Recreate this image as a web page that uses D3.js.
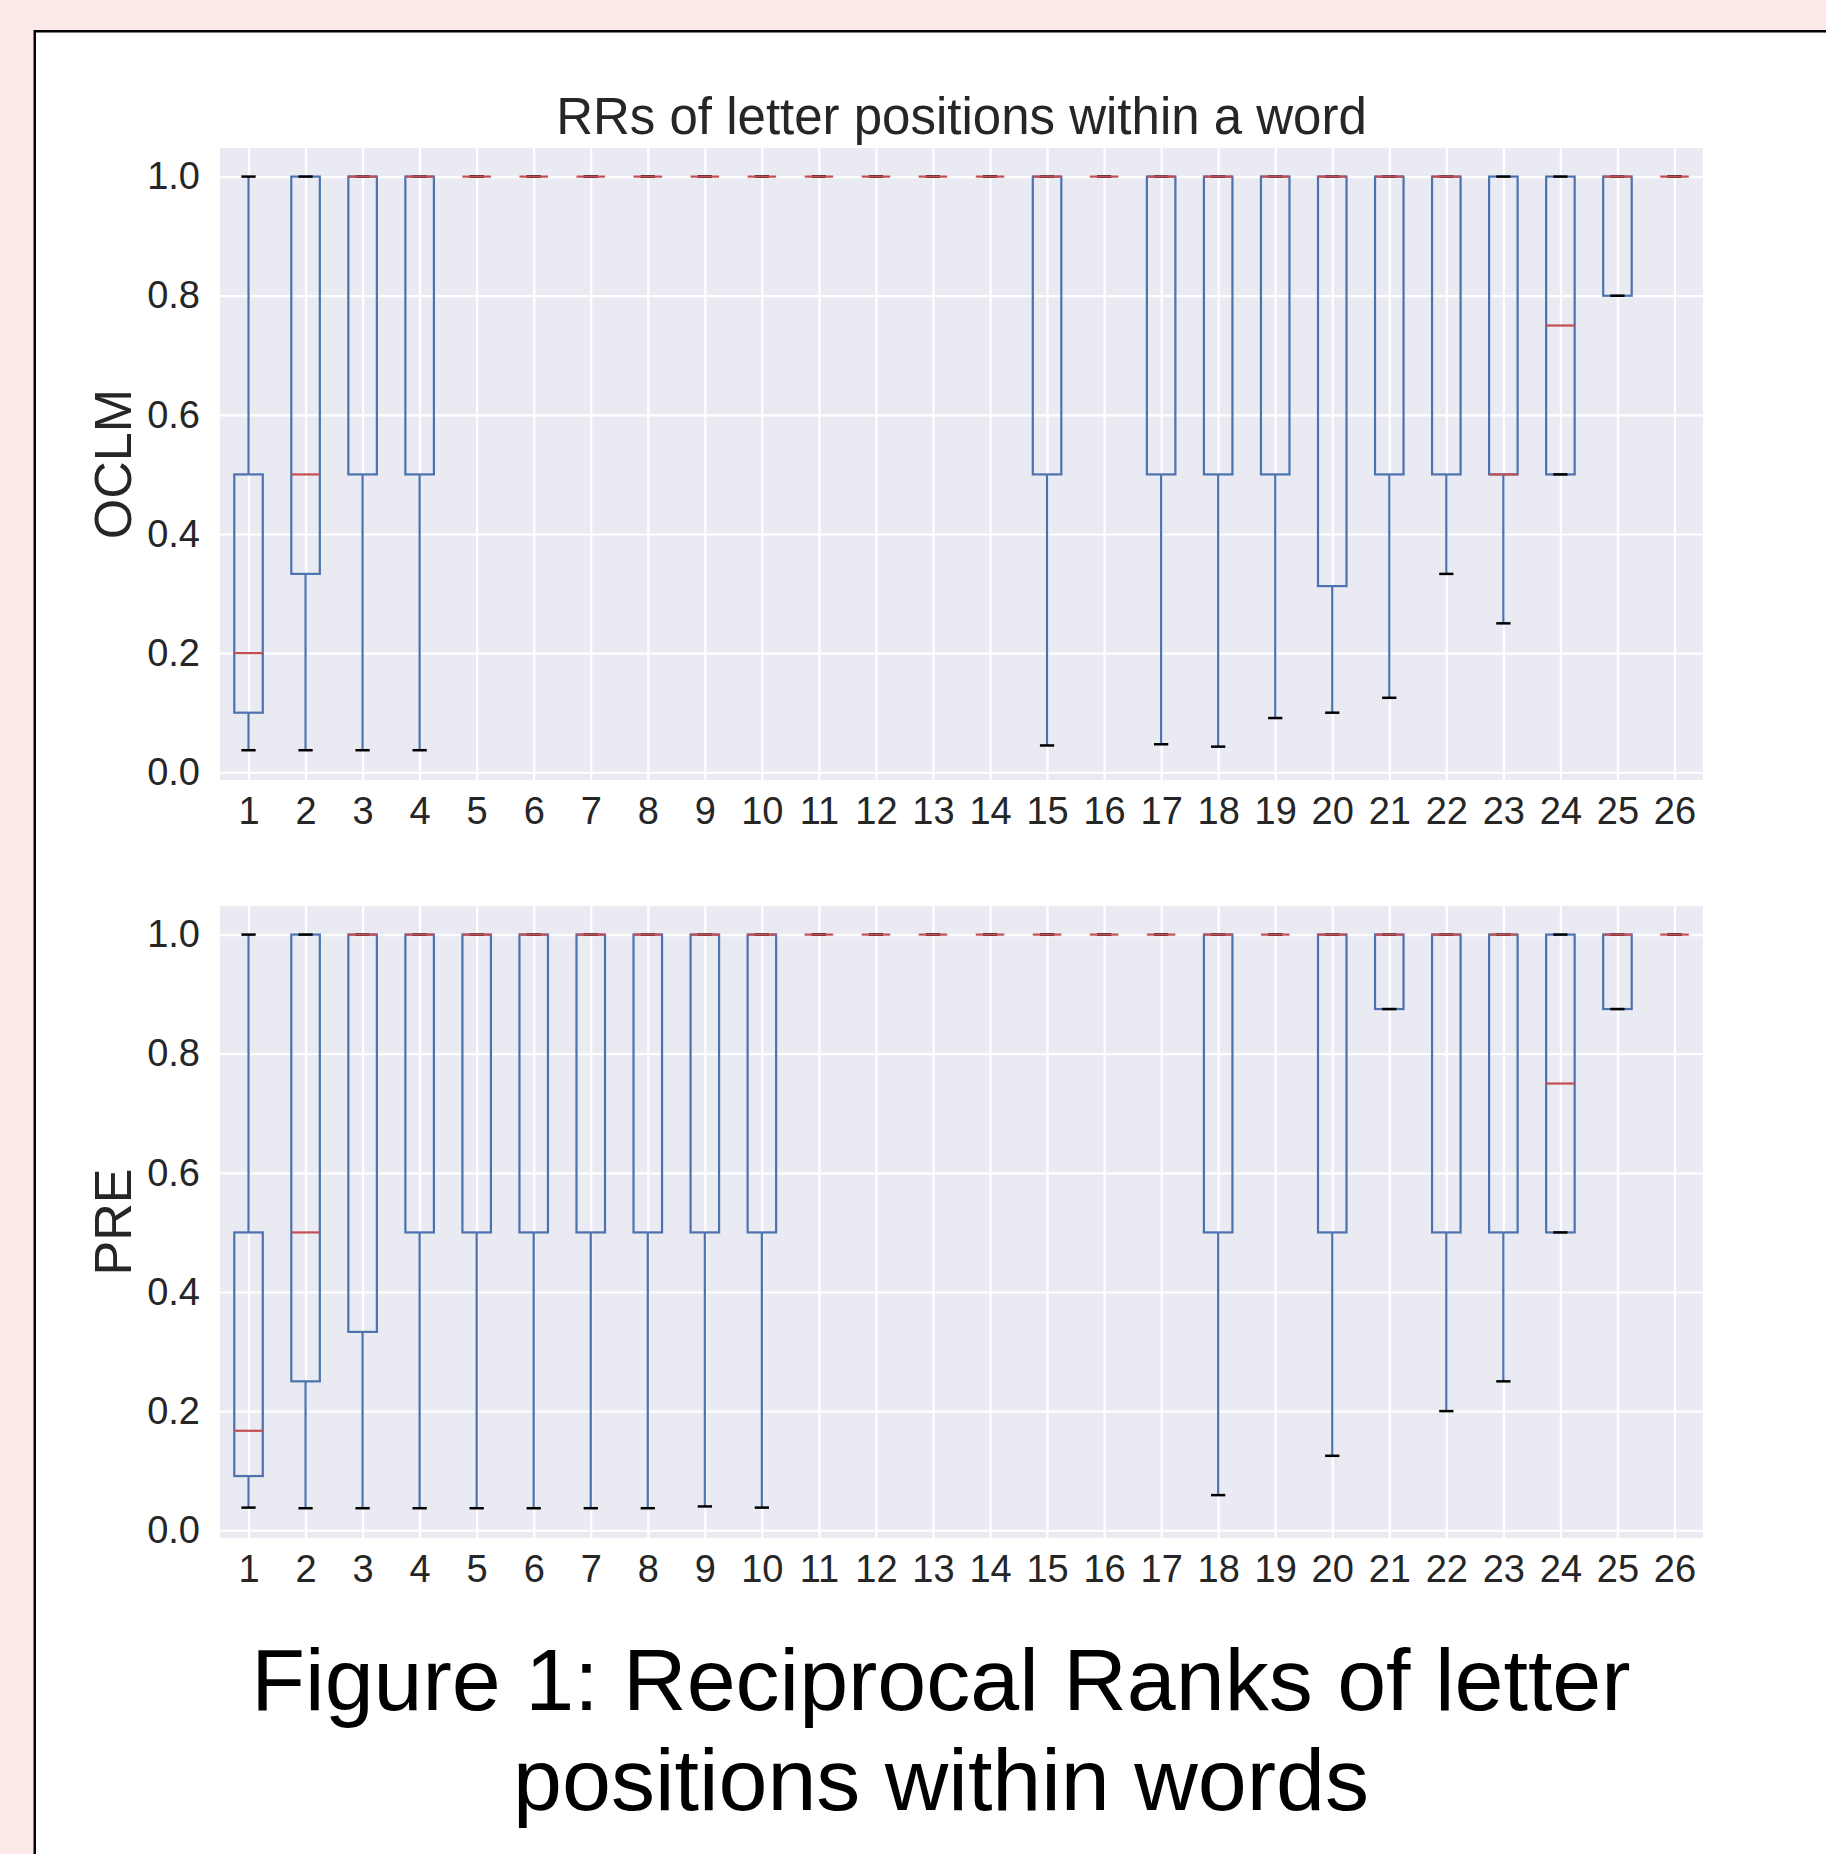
<!DOCTYPE html>
<html>
<head>
<meta charset="utf-8">
<script src="https://cdn.jsdelivr.net/npm/d3@7"></script>
<style>
  html, body { margin: 0; padding: 0; background: #fde8e8; }
  svg { display: block; }
</style>
</head>
<body>
<svg id="chart" width="1826" height="1854"></svg>
<script>
const positions = [1, 2, 3, 4, 5, 6, 7, 8, 9, 10, 11, 12, 13, 14, 15, 16, 17, 18, 19, 20, 21, 22, 23, 24, 25, 26];
const yTicks = [0, 0.2, 0.4, 0.6, 0.8, 1.0];

// OCLM panel, one value per letter position
const oclmLow    = [0.037, 0.037, 0.037, 0.037, 1, 1, 1, 1, 1, 1, 1, 1, 1, 1, 0.045, 1, 0.047, 0.043, 0.091, 0.1, 0.125, 0.333, 0.25, 0.5, 0.8, 1];
const oclmQ1     = [0.1, 0.333, 0.5, 0.5, 1, 1, 1, 1, 1, 1, 1, 1, 1, 1, 0.5, 1, 0.5, 0.5, 0.5, 0.3125, 0.5, 0.5, 0.5, 0.5, 0.8, 1];
const oclmMedian = [0.2, 0.5, 1, 1, 1, 1, 1, 1, 1, 1, 1, 1, 1, 1, 1, 1, 1, 1, 1, 1, 1, 1, 0.5, 0.75, 1, 1];
const oclmQ3     = [0.5, 1, 1, 1, 1, 1, 1, 1, 1, 1, 1, 1, 1, 1, 1, 1, 1, 1, 1, 1, 1, 1, 1, 1, 1, 1];
const oclmHigh   = [1, 1, 1, 1, 1, 1, 1, 1, 1, 1, 1, 1, 1, 1, 1, 1, 1, 1, 1, 1, 1, 1, 1, 1, 1, 1];

// PRE panel
const preLow    = [0.038, 0.037, 0.037, 0.037, 0.037, 0.037, 0.037, 0.037, 0.04, 0.038, 1, 1, 1, 1, 1, 1, 1, 0.059, 1, 0.125, 0.875, 0.2, 0.25, 0.5, 0.875, 1];
const preQ1     = [0.091, 0.25, 0.333, 0.5, 0.5, 0.5, 0.5, 0.5, 0.5, 0.5, 1, 1, 1, 1, 1, 1, 1, 0.5, 1, 0.5, 0.875, 0.5, 0.5, 0.5, 0.875, 1];
const preMedian = [0.167, 0.5, 1, 1, 1, 1, 1, 1, 1, 1, 1, 1, 1, 1, 1, 1, 1, 1, 1, 1, 1, 1, 1, 0.75, 1, 1];
const preQ3     = [0.5, 1, 1, 1, 1, 1, 1, 1, 1, 1, 1, 1, 1, 1, 1, 1, 1, 1, 1, 1, 1, 1, 1, 1, 1, 1];
const preHigh   = [1, 1, 1, 1, 1, 1, 1, 1, 1, 1, 1, 1, 1, 1, 1, 1, 1, 1, 1, 1, 1, 1, 1, 1, 1, 1];

const FontFamily = "'Liberation Sans', Arial, Helvetica, sans-serif";
const TextColor = '#262626';
const BoxColor = '#4C72B0';
const MedianColor = '#C44E52';
const CapColor = '#000000';
const PlotBg = '#EAEAF2';

const plotLeft = 220;
const plotRight = 1703;
const plotHeight = 632;

const panels = [
  { label: 'OCLM', top: 148, low: oclmLow, q1: oclmQ1, median: oclmMedian, q3: oclmQ3, high: oclmHigh },
  { label: 'PRE', top: 906, low: preLow, q1: preQ1, median: preMedian, q3: preQ3, high: preHigh }
];

const svg = d3.select('#chart');

// white page with a black frame that runs off the right and bottom edges
svg.append('rect')
  .attr('x', 34.75)
  .attr('y', 31.25)
  .attr('width', 2000)
  .attr('height', 2000)
  .attr('fill', '#ffffff')
  .attr('stroke', '#000000')
  .attr('stroke-width', 2.5);

const x = d3.scaleLinear()
  .domain([0.5, 26.5])
  .range([plotLeft, plotRight]);
const halfBox = (x(1.25) - x(1)); // box width 0.5
const halfCap = (x(1.125) - x(1)); // cap width 0.25

const drawPanel = (panel, index) => {
  const y = d3.scaleLinear()
    .domain([-0.013, 1.048])
    .range([panel.top + plotHeight, panel.top]);
  const plotWidth = plotRight - plotLeft;

  const g = svg.append('g').classed('panel', true);

  g.append('rect')
    .attr('x', plotLeft)
    .attr('y', panel.top)
    .attr('width', plotWidth)
    .attr('height', plotHeight)
    .attr('fill', PlotBg);

  const yAxis = g.append('g')
    .attr('transform', `translate(${plotLeft},0)`)
    .call(d3.axisLeft(y)
      .tickValues(yTicks)
      .tickFormat(d3.format('.1f'))
      .tickSize(-plotWidth)
      .tickPadding(20));

  const xAxis = g.append('g')
    .attr('transform', `translate(0,${panel.top + plotHeight})`)
    .call(d3.axisBottom(x)
      .tickValues(positions)
      .tickFormat(d3.format('d'))
      .tickSize(-plotHeight)
      .tickPadding(17));

  [xAxis, yAxis].forEach(axis => {
    axis.select('.domain').remove();
    axis.selectAll('.tick line')
      .attr('stroke', '#ffffff')
      .attr('stroke-width', 2.2);
    axis.selectAll('.tick text')
      .attr('fill', TextColor)
      .style('font-family', FontFamily)
      .style('font-size', '38px');
  });

  const data = positions.map((p, i) => ({
    p,
    low: panel.low[i],
    q1: panel.q1[i],
    median: panel.median[i],
    q3: panel.q3[i],
    high: panel.high[i]
  }));

  const boxes = g.append('g').classed('boxes', true);

  // whiskers
  boxes.selectAll('line.whisker-low')
    .data(data)
    .enter().append('line')
      .classed('whisker-low', true)
      .attr('x1', d => x(d.p))
      .attr('x2', d => x(d.p))
      .attr('y1', d => y(d.q1))
      .attr('y2', d => y(d.low))
      .attr('stroke', BoxColor)
      .attr('stroke-width', 2.2);

  boxes.selectAll('line.whisker-high')
    .data(data)
    .enter().append('line')
      .classed('whisker-high', true)
      .attr('x1', d => x(d.p))
      .attr('x2', d => x(d.p))
      .attr('y1', d => y(d.q3))
      .attr('y2', d => y(d.high))
      .attr('stroke', BoxColor)
      .attr('stroke-width', 2.2);

  boxes.selectAll('rect.box')
    .data(data)
    .enter().append('rect')
      .classed('box', true)
      .attr('x', d => x(d.p) - halfBox)
      .attr('width', 2 * halfBox)
      .attr('y', d => y(d.q3))
      .attr('height', d => y(d.q1) - y(d.q3))
      .attr('fill', 'none')
      .attr('stroke', BoxColor)
      .attr('stroke-width', 2.2);

  ['low', 'high'].forEach(key => {
    boxes.selectAll(`line.cap-${key}`)
      .data(data)
      .enter().append('line')
        .classed(`cap-${key}`, true)
        .attr('x1', d => x(d.p) - halfCap)
        .attr('x2', d => x(d.p) + halfCap)
        .attr('y1', d => y(d[key]))
        .attr('y2', d => y(d[key]))
        .attr('stroke', CapColor)
        .attr('stroke-width', 2.5);
  });

  boxes.selectAll('line.median')
    .data(data)
    .enter().append('line')
      .classed('median', true)
      .attr('x1', d => x(d.p) - halfBox)
      .attr('x2', d => x(d.p) + halfBox)
      .attr('y1', d => y(d.median))
      .attr('y2', d => y(d.median))
      .attr('stroke', MedianColor)
      .attr('stroke-width', 2.2);

  // y label
  const labelY = panel.top + plotHeight / 2;
  g.append('text')
    .attr('transform', `translate(131,${labelY}) rotate(-90)`)
    .attr('text-anchor', 'middle')
    .attr('fill', TextColor)
    .style('font-family', FontFamily)
    .style('font-size', '52px')
    .text(panel.label);

  if (index === 0) {
    g.append('text')
      .attr('x', (plotLeft + plotRight) / 2)
      .attr('y', 134)
      .attr('text-anchor', 'middle')
      .attr('fill', TextColor)
      .style('font-family', FontFamily)
      .style('font-size', '51px')
      .text('RRs of letter positions within a word');
  }
};

panels.forEach(drawPanel);

// caption
const caption = svg.append('text')
  .attr('text-anchor', 'middle')
  .attr('fill', '#000000')
  .style('font-family', FontFamily)
  .style('font-size', '88px');
caption.append('tspan')
  .attr('x', 941)
  .attr('y', 1710)
  .text('Figure 1: Reciprocal Ranks of letter');
caption.append('tspan')
  .attr('x', 941)
  .attr('y', 1810)
  .text('positions within words');
</script>
</body>
</html>
